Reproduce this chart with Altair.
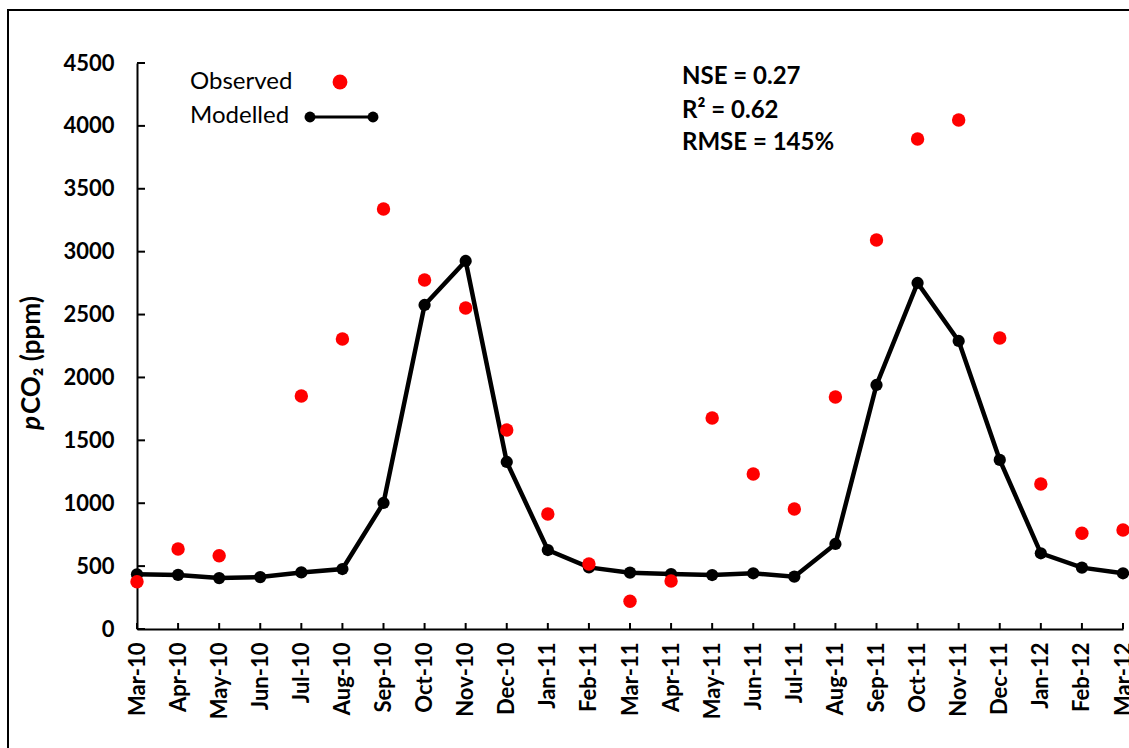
import altair as alt
import pandas as pd

months = ["Mar-10", "Apr-10", "May-10", "Jun-10", "Jul-10", "Aug-10", "Sep-10", "Oct-10",
          "Nov-10", "Dec-10", "Jan-11", "Feb-11", "Mar-11", "Apr-11", "May-11", "Jun-11",
          "Jul-11", "Aug-11", "Sep-11", "Oct-11", "Nov-11", "Dec-11", "Jan-12", "Feb-12", "Mar-12"]
observed = [376, 636, 583, None, 1852, 2306, 3339, 2775, 2552, 1582, 914, 517, 220, 382,
            1678, 1232, 954, 1844, 3093, 3896, 4047, 2314, 1153, 761, 787]
modelled = [435, 430, 405, 413, 450, 477, 1002, 2576, 2926, 1328, 628, 490, 448, 437,
            429, 443, 416, 676, 1940, 2751, 2290, 1344, 602, 488, 443]
y_ticks = [0, 500, 1000, 1500, 2000, 2500, 3000, 3500, 4000, 4500]
stats = ["NSE = 0.27", "R² = 0.62", "RMSE = 145%"]

FONT = "Lato"
W, H = 986, 566

df = pd.DataFrame({"month": months, "observed": observed, "modelled": modelled})
xscale = alt.Scale(type="point", padding=0)
xenc = alt.X("month:O", sort=months, scale=xscale,
             axis=alt.Axis(title=None, labelAngle=-90, labelFontSize=22, labelFontWeight="bold",
                           labelFont=FONT, labelColor="black", ticks=False, labelPadding=13,
                           domainColor="black", domainWidth=2))
yscale = alt.Scale(domain=[0, 4500], nice=False)
yaxis = alt.Axis(title=None, values=y_ticks, format="d", labelFontSize=22, labelFontWeight="bold",
                 labelFont=FONT, labelColor="black", ticks=False, labelPadding=23,
                 domainColor="black", domainWidth=2, grid=False)

base = alt.Chart(df)
line = base.mark_line(color="black", strokeWidth=4.5).encode(
    x=xenc, y=alt.Y("modelled:Q", scale=yscale, axis=yaxis))
mpts = base.mark_circle(color="black", size=150, opacity=1).encode(
    x=xenc, y=alt.Y("modelled:Q", scale=yscale))
opts = base.transform_filter("datum.observed != null").mark_circle(
    color="#ff0000", size=180, opacity=1).encode(
    x=xenc, y=alt.Y("observed:Q", scale=yscale))

xt = base.mark_rule(color="black", strokeWidth=2).encode(
    x=xenc, y=alt.value(H - 6), y2=alt.value(H))
yt = alt.Chart(pd.DataFrame({"v": y_ticks})).mark_rule(color="black", strokeWidth=2).encode(
    y=alt.Y("v:Q", scale=yscale), x=alt.value(0), x2=alt.value(8))

one = alt.Chart(pd.DataFrame({"a": [0]}))
frame = one.mark_rect(fill=None, stroke="black", strokeWidth=2).encode(
    x=alt.value(-129), x2=alt.value(1010), y=alt.value(-53), y2=alt.value(700))

leg_txt = alt.Chart(pd.DataFrame({"t": ["Observed", "Modelled"], "y": [19, 53]})).mark_text(
    align="left", baseline="middle", fontSize=24, font=FONT, color="black").encode(
    text="t:N", x=alt.value(53), y=alt.Y("y:Q", scale=None))
leg_dot = one.mark_circle(color="#ff0000", size=220, opacity=1).encode(
    x=alt.value(203), y=alt.value(19))
leg_line = one.mark_rule(color="black", strokeWidth=3).encode(
    x=alt.value(173), x2=alt.value(236), y=alt.value(54))
leg_pts = alt.Chart(pd.DataFrame({"x": [173, 236]})).mark_circle(
    color="black", size=120, opacity=1).encode(
    x=alt.X("x:Q", scale=None), y=alt.value(54))

stat_txt = alt.Chart(pd.DataFrame({"t": stats, "y": [14, 48, 80]})).mark_text(
    align="left", baseline="middle", fontSize=24, fontWeight="bold", font=FONT,
    color="black").encode(text="t:N", x=alt.value(545), y=alt.Y("y:Q", scale=None))

yt_p = one.mark_text(text="p", angle=270, align="left", baseline="alphabetic", fontSize=26,
                     fontWeight="bold", fontStyle="italic", font=FONT, color="black").encode(
    x=alt.value(-97), y=alt.value(367))
yt_rest = one.mark_text(text="CO₂ (ppm)", angle=270, align="left", baseline="alphabetic",
                        fontSize=26, fontWeight="bold", font=FONT, color="black").encode(
    x=alt.value(-97), y=alt.value(351))

chart = alt.layer(frame, line, mpts, opts, xt, yt, leg_txt, leg_dot, leg_line, leg_pts,
                  stat_txt, yt_p, yt_rest).properties(
    width=W, height=H,
    autosize=alt.AutoSizeParams(type="none"),
    padding={"left": 137, "top": 63, "right": 6, "bottom": 119},
    background="white",
).configure_view(stroke=None)

chart.save("out.html", embed_options={"renderer": "svg", "actions": False})
